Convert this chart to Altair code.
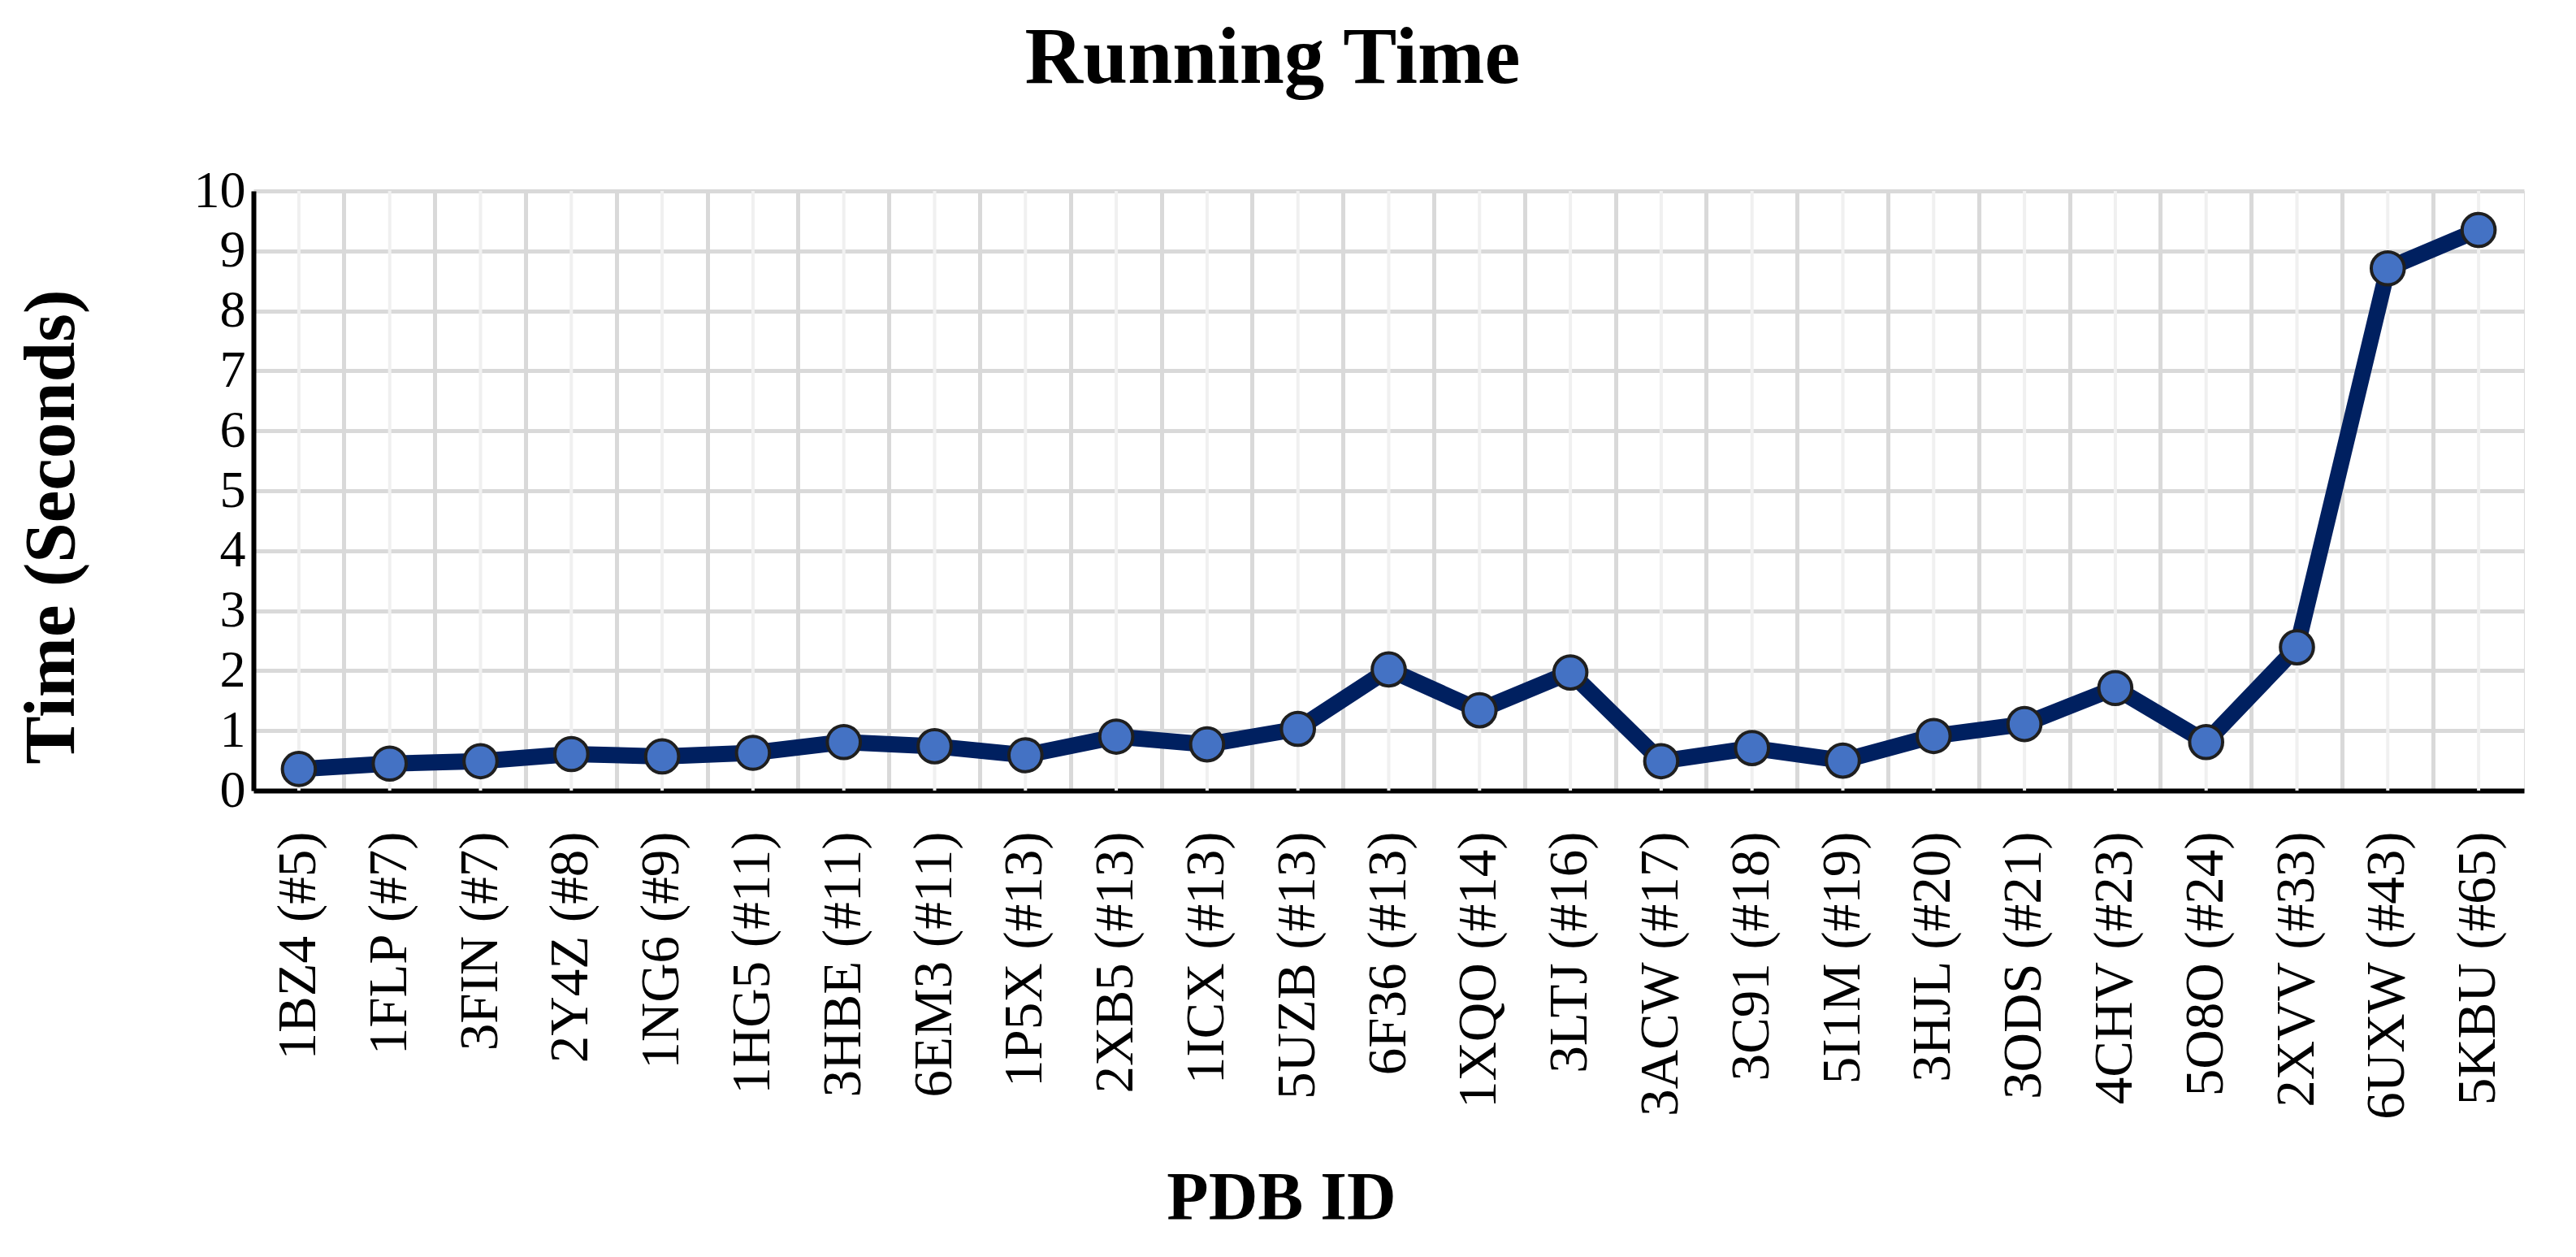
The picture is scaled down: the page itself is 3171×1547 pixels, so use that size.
import altair as alt
import pandas as pd

pdb_ids = ["1BZ4 (#5)", "1FLP (#7)", "3FIN (#7)", "2Y4Z (#8)", "1NG6 (#9)", "1HG5 (#11)",
           "3HBE (#11)", "6EM3 (#11)", "1P5X (#13)", "2XB5 (#13)", "1ICX (#13)", "5UZB (#13)",
           "6F36 (#13)", "1XQO (#14)", "3LTJ (#16)", "3ACW (#17)", "3C91 (#18)", "5I1M (#19)",
           "3HJL (#20)", "3ODS (#21)", "4CHV (#23)", "5O8O (#24)", "2XVV (#33)", "6UXW (#43)",
           "5KBU (#65)"]
times = [0.36, 0.45, 0.49, 0.61, 0.57, 0.63, 0.81, 0.74, 0.59, 0.90, 0.77, 1.03,
         2.02, 1.34, 1.97, 0.49, 0.71, 0.50, 0.91, 1.11, 1.71, 0.81, 2.39, 8.71, 9.35]
y_ticks = list(range(0, 11))

df = pd.DataFrame({"pdb": pdb_ids, "time": times})

FONT = "Liberation Serif"

xscale = alt.Scale(type="band", paddingInner=0, paddingOuter=0)
yscale = alt.Scale(domain=[0, 10], nice=False)

x_axis = alt.Axis(
    title="PDB ID", labelAngle=270, labelFont=FONT, labelFontSize=67, labelColor="black",
    labelPadding=50, labelLimit=0, ticks=False, domain=True, domainColor="black", domainWidth=6,
    grid=True, gridColor="#d9d9d9", gridWidth=5, bandPosition=0,
    titleFont=FONT, titleFontSize=84, titleFontWeight="bold", titleColor="black",
    titleX=1265, titleY=527, titleAlign="center", titleBaseline="alphabetic",
    labelOverlap=False,
)
y_axis = alt.Axis(
    title="Time (Seconds)", values=y_ticks, labelFont=FONT, labelFontSize=64,
    labelColor="black", labelPadding=10, ticks=False, domain=True, domainColor="black",
    domainWidth=6, grid=True, gridColor="#d9d9d9", gridWidth=5,
    titleFont=FONT, titleFontSize=89, titleFontWeight="bold", titleColor="black",
    titleAngle=270, titleX=-222, titleY=413, titleAlign="center", titleBaseline="alphabetic",
)

base = alt.Chart(df)

center_lines = base.mark_rule(color="#f0f0f0", strokeWidth=4).encode(
    x=alt.X("pdb:N", sort=pdb_ids, scale=xscale, axis=x_axis, bandPosition=0.5),
)

line = base.mark_line(color="#002060", strokeWidth=20, strokeJoin="miter").encode(
    x=alt.X("pdb:N", sort=pdb_ids, scale=xscale, axis=x_axis, bandPosition=0.5),
    y=alt.Y("time:Q", scale=yscale, axis=y_axis),
)

points = base.mark_point(filled=True, shape="circle", size=1650, fill="#4472C4",
                         stroke="#1f1f1f", strokeWidth=4, opacity=1).encode(
    x=alt.X("pdb:N", sort=pdb_ids, scale=xscale, axis=x_axis, bandPosition=0.5),
    y=alt.Y("time:Q", scale=yscale, axis=y_axis),
)

chart = alt.layer(center_lines, line, points).properties(
    width=2795, height=738,
    title=alt.TitleParams("Running Time", font=FONT, fontSize=99, fontWeight="bold",
                          color="black", anchor="middle", dx=-143, offset=80),
    autosize=alt.AutoSizeParams(type="none"),
    padding={"left": 304, "top": 227, "right": 50, "bottom": 565},
).configure_view(
    stroke="#d9d9d9", strokeWidth=5
).configure(background="white")

chart.save("out.html", embed_options={"renderer": "svg", "actions": False})
